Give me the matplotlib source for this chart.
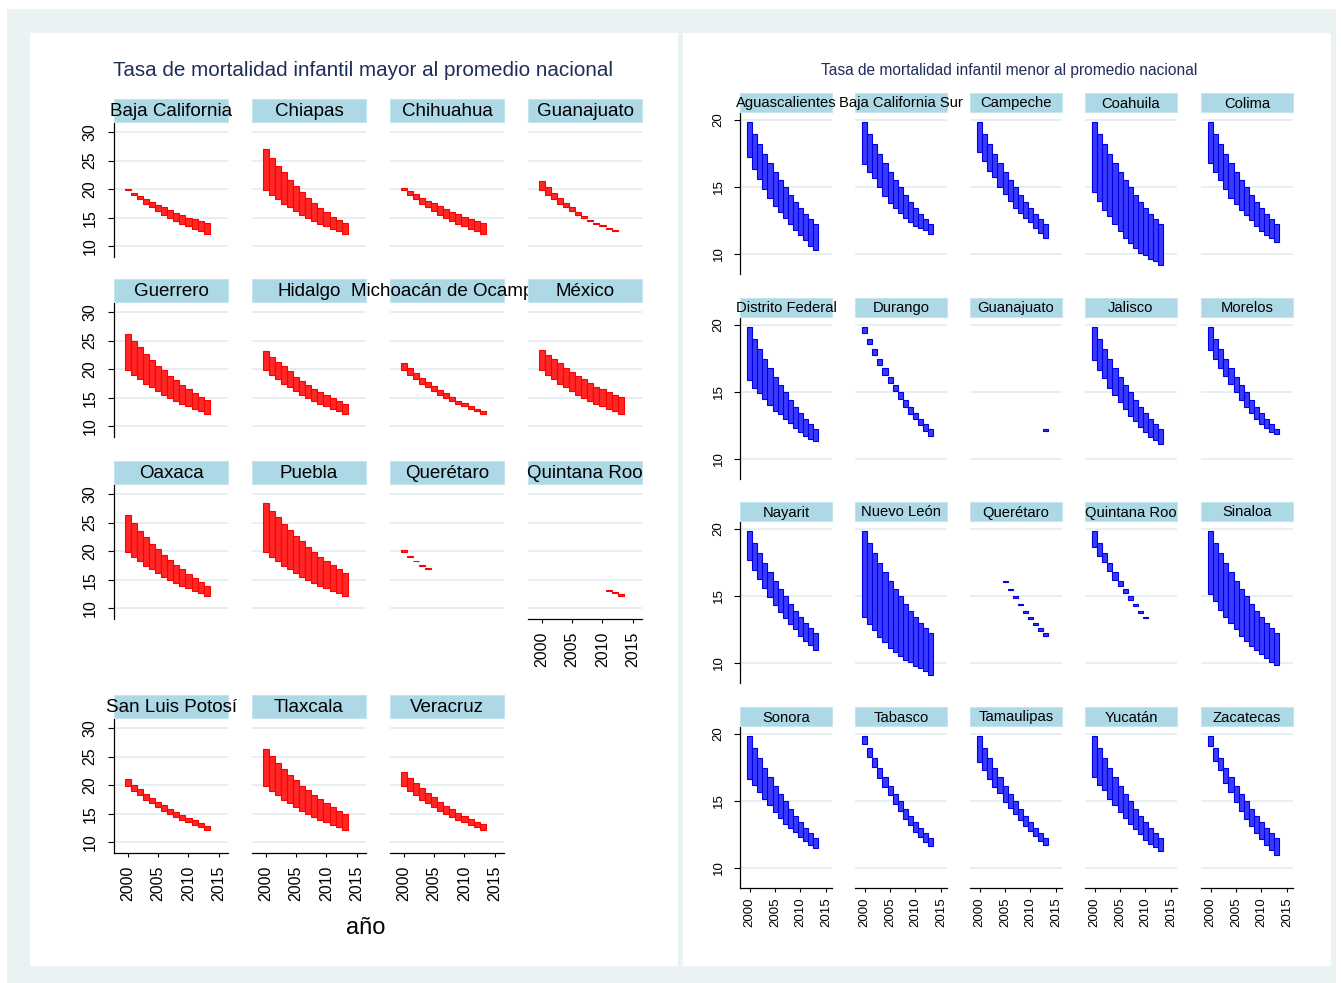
import matplotlib
matplotlib.use("Agg")
import matplotlib.pyplot as plt
import numpy as np
from matplotlib.patches import Rectangle
from matplotlib.transforms import Bbox

plt.rcParams['font.family'] = ['Liberation Sans', 'DejaVu Sans']

# tasa de mortalidad infantil por entidad, 2000-2013
anos = np.arange(2000, 2014)
nacional = [19.8, 18.95, 18.2, 17.45, 16.8, 16.1, 15.5, 14.95, 14.4, 13.9, 13.45, 13.0, 12.6, 12.2]

aguascalientes = [17.2, 16.3, 15.55, 14.85, 14.2, 13.6, 13.1, 12.7, 12.2, 11.8, 11.4, 11.0, 10.6, 10.3]
baja_california = [20.0, 19.35, 18.8, 18.3, 17.75, 17.3, 16.8, 16.35, 15.9, 15.45, 15.0, 14.7, 14.4, 14.0]
baja_california_sur = [16.7, 16.1, 15.65, 14.95, 14.3, 13.8, 13.4, 13.05, 12.7, 12.4, 12.1, 11.9, 11.75, 11.5]
campeche = [17.6, 16.9, 16.2, 15.7, 14.95, 14.45, 13.95, 13.4, 13.05, 12.7, 12.35, 11.9, 11.55, 11.15]
coahuila = [14.6, 13.95, 13.25, 12.8, 12.2, 11.7, 11.2, 10.8, 10.45, 10.1, 9.9, 9.65, 9.45, 9.2]
colima = [16.8, 16.1, 15.5, 14.85, 14.15, 13.75, 13.3, 12.9, 12.55, 12.1, 11.7, 11.4, 11.2, 10.9]
chiapas = [27.0, 25.5, 24.1, 23.0, 21.6, 20.5, 19.5, 18.5, 17.6, 16.7, 16.0, 15.1, 14.6, 14.0]
chihuahua = [20.2, 19.7, 19.1, 18.5, 17.9, 17.5, 17.0, 16.5, 16.0, 15.6, 15.2, 14.8, 14.5, 14.0]
distrito_federal = [15.9, 15.3, 14.9, 14.5, 14.0, 13.6, 13.35, 13.0, 12.65, 12.3, 12.0, 11.7, 11.5, 11.3]
durango = [19.4, 18.55, 17.75, 17.0, 16.25, 15.65, 15.05, 14.5, 13.9, 13.35, 13.0, 12.5, 12.05, 11.7]
guanajuato = [21.4, 20.4, 19.3, 18.4, 17.5, 16.8, 16.0, 15.3, 14.65, 14.1, 13.65, 13.2, 12.75, 12.1]
guerrero = [26.2, 25.0, 23.8, 22.7, 21.6, 20.6, 19.8, 18.8, 18.1, 17.2, 16.5, 15.9, 15.2, 14.6]
hidalgo = [23.2, 22.2, 21.3, 20.5, 19.6, 18.7, 18.0, 17.2, 16.6, 16.0, 15.4, 14.9, 14.4, 13.8]
jalisco = [17.35, 16.6, 16.05, 15.3, 14.75, 14.25, 13.7, 13.2, 12.85, 12.4, 12.0, 11.6, 11.4, 11.1]
mexico = [23.4, 22.5, 21.8, 21.0, 20.2, 19.5, 18.8, 18.2, 17.5, 16.9, 16.5, 16.0, 15.5, 15.1]
michoacan = [21.0, 20.2, 19.3, 18.5, 17.7, 17.1, 16.4, 15.8, 15.2, 14.5, 14.0, 13.5, 13.05, 12.65]
morelos = [18.15, 17.45, 16.8, 16.2, 15.6, 14.95, 14.4, 13.9, 13.4, 13.0, 12.6, 12.3, 12.0, 11.85]
nayarit = [17.7, 16.95, 16.25, 15.6, 14.9, 14.35, 13.8, 13.35, 12.9, 12.5, 12.0, 11.6, 11.35, 10.95]
nuevo_leon = [13.45, 12.9, 12.45, 11.95, 11.55, 11.1, 10.8, 10.5, 10.25, 10.05, 9.8, 9.6, 9.4, 9.1]
oaxaca = [26.3, 25.0, 23.6, 22.4, 21.3, 20.3, 19.3, 18.4, 17.6, 16.8, 16.0, 15.3, 14.6, 13.9]
puebla = [28.4, 27.1, 26.0, 24.8, 23.7, 22.7, 21.7, 20.8, 19.9, 19.0, 18.2, 17.5, 16.8, 16.1]
queretaro = [20.2, 19.2, 18.35, 17.6, 17.0, 16.0, 15.4, 14.8, 14.3, 13.7, 13.3, 12.85, 12.4, 12.0]
quintana_roo = [18.65, 18.0, 17.5, 16.85, 16.2, 15.7, 15.2, 14.7, 14.25, 13.75, 13.35, 13.2, 12.8, 12.4]
san_luis_potosi = [21.0, 20.1, 19.3, 18.5, 17.8, 17.1, 16.5, 15.9, 15.3, 14.8, 14.3, 13.8, 13.3, 12.9]
sinaloa = [15.15, 14.6, 13.95, 13.45, 13.0, 12.5, 12.0, 11.6, 11.25, 10.95, 10.65, 10.35, 10.1, 9.85]
sonora = [16.65, 16.15, 15.65, 15.1, 14.65, 14.2, 13.7, 13.25, 13.0, 12.7, 12.3, 12.0, 11.7, 11.45]
tabasco = [19.2, 18.3, 17.55, 16.7, 16.05, 15.4, 14.75, 14.25, 13.65, 13.2, 12.7, 12.3, 11.9, 11.6]
tamaulipas = [17.9, 17.3, 16.6, 16.05, 15.55, 14.9, 14.5, 14.05, 13.55, 13.1, 12.75, 12.35, 12.0, 11.7]
tlaxcala = [26.3, 25.1, 23.9, 22.8, 21.8, 20.9, 19.9, 19.1, 18.3, 17.5, 16.8, 16.2, 15.5, 14.9]
veracruz = [22.3, 21.3, 20.4, 19.5, 18.6, 17.9, 17.1, 16.4, 15.8, 15.2, 14.6, 14.0, 13.5, 13.1]
yucatan = [16.8, 16.2, 15.8, 15.1, 14.65, 14.15, 13.7, 13.3, 12.9, 12.55, 12.1, 11.8, 11.55, 11.25]
zacatecas = [19.05, 18.0, 17.3, 16.35, 15.65, 14.9, 14.25, 13.65, 13.15, 12.6, 12.15, 11.7, 11.3, 10.95]

mayor = [("Baja California", baja_california), ("Chiapas", chiapas),
         ("Chihuahua", chihuahua), ("Guanajuato", guanajuato),
         ("Guerrero", guerrero), ("Hidalgo", hidalgo),
         ("Michoacán de Ocampo", michoacan), ("México", mexico),
         ("Oaxaca", oaxaca), ("Puebla", puebla),
         ("Querétaro", queretaro), ("Quintana Roo", quintana_roo),
         ("San Luis Potosí", san_luis_potosi), ("Tlaxcala", tlaxcala),
         ("Veracruz", veracruz)]
menor = [("Aguascalientes", aguascalientes), ("Baja California Sur", baja_california_sur),
         ("Campeche", campeche), ("Coahuila", coahuila), ("Colima", colima),
         ("Distrito Federal", distrito_federal), ("Durango", durango),
         ("Guanajuato", guanajuato), ("Jalisco", jalisco), ("Morelos", morelos),
         ("Nayarit", nayarit), ("Nuevo León", nuevo_leon), ("Querétaro", queretaro),
         ("Quintana Roo", quintana_roo), ("Sinaloa", sinaloa),
         ("Sonora", sonora), ("Tabasco", tabasco), ("Tamaulipas", tamaulipas),
         ("Yucatán", yucatan), ("Zacatecas", zacatecas)]

W, H = 1341, 983
fig = plt.figure(figsize=(W / 100, H / 100), dpi=100)
fig.patch.set_facecolor('white')

def box(x0, y0, x1, y1):
    # pixel box (origin top-left) -> figure fraction rect
    return [x0 / W, 1 - y1 / H, (x1 - x0) / W, (y1 - y0) / H]

def rect(x0, y0, x1, y1, fc, ec='none', lw=0, z=-10):
    l, b, w, h = box(x0, y0, x1, y1)
    fig.add_artist(Rectangle((l, b), w, h, transform=fig.transFigure,
                             facecolor=fc, edgecolor=ec, linewidth=lw, zorder=z))

# fondo estilo s2color
rect(7, 9, 1336, 983, '#eaf2f3')
rect(30, 33, 678, 966, 'white')
rect(683, 33, 1331, 966, 'white')

grid_c = '#e6eff1'
strip_c = '#add8e6'
title_c = '#1f2d5a'
nat = np.array(nacional)


def panel(items, cols_x, rows_y, w, h, strip_h, fs_strip, fs_tick, ylim, yticks,
          xlim, xlabel_idx, above, fill, edge, pad_y, pad_x, clip_right):
    ncol = len(cols_x)
    for i, (name, vals) in enumerate(items):
        r, c = divmod(i, ncol)
        x0, y0 = cols_x[c], rows_y[r]
        ax = fig.add_axes(box(x0, y0, x0 + w, y0 + h))
        ax.set_facecolor('none')
        v = np.array(vals)
        m = v > nat if above else v < nat
        lo = np.where(above, nat, v)[m]
        hi = np.where(above, v, nat)[m]
        ax.bar(anos[m], hi - lo, bottom=lo, width=1.0, color=fill,
               edgecolor=edge, linewidth=0.8, zorder=3)
        ax.set_xlim(*xlim)
        ax.set_ylim(*ylim)
        ax.set_yticks(yticks)
        ax.set_xticks([2000, 2005, 2010, 2015])
        ax.yaxis.grid(True, color=grid_c, linewidth=1.4, zorder=0)
        ax.set_axisbelow(True)
        for s in ax.spines.values():
            s.set_visible(False)
        if c == 0:
            ax.spines['left'].set_visible(True)
            ax.spines['left'].set_linewidth(0.9)
            ax.tick_params(axis='y', length=4, width=0.8, pad=pad_y,
                           labelsize=fs_tick, labelrotation=90)
            for t in ax.get_yticklabels():
                t.set_va('center')
        else:
            ax.tick_params(axis='y', length=0, labelleft=False)
        if i in xlabel_idx:
            ax.spines['bottom'].set_visible(True)
            ax.spines['bottom'].set_linewidth(0.9)
            ax.tick_params(axis='x', length=3, width=0.8, pad=pad_x,
                           labelsize=fs_tick, labelrotation=90)
        else:
            ax.tick_params(axis='x', length=0, labelbottom=False)

        # franja con el nombre de la entidad
        rect(x0, y0 - strip_h - 1, x0 + w, y0 - 1, strip_c, ec='#c6e4ee', lw=0.8, z=1)
        cx = (x0 + w / 2) / W
        cy = 1 - (y0 - strip_h / 2) / H
        t = fig.text(cx, cy, name, ha='center', va='center', fontsize=fs_strip,
                     color='black', zorder=2)
        right = cols_x[c + 1] if c + 1 < ncol else clip_right
        t.set_clip_box(Bbox.from_extents(0, 0, right, H))
        t.set_clip_on(True)


# izquierda: entidades por encima del promedio nacional
panel(mayor, [114, 252, 390, 528], [123, 303, 485, 719], 114, 134, 23,
      13.5, 11.5, (8.1, 31.6), [10, 15, 20, 25, 30], (1997.75, 2016.5),
      [11, 12, 13, 14], True, '#ff2626', '#ff0000', 8, 6, 676)
fig.text(363 / W, 1 - 71 / H, "Tasa de mortalidad infantil mayor al promedio nacional",
         ha='center', va='center', fontsize=14.9, color=title_c)
fig.text(366 / W, 1 - 928 / H, "año", ha='center', va='center', fontsize=17)

# derecha: entidades por debajo del promedio nacional
panel(menor, [740, 855, 970, 1085, 1201], [113, 318, 522, 727], 92, 161, 19,
      10.6, 9.5, (8.5, 20.5), [10, 15, 20], (1998.1, 2016.2),
      [15, 16, 17, 18, 19], False, '#3a3aff', '#0000e6', 7, 4, 1330)
fig.text(1009 / W, 1 - 70 / H, "Tasa de mortalidad infantil menor al promedio nacional",
         ha='center', va='center', fontsize=11.2, color=title_c)

fig.savefig('out.png', dpi=100, facecolor='white')
